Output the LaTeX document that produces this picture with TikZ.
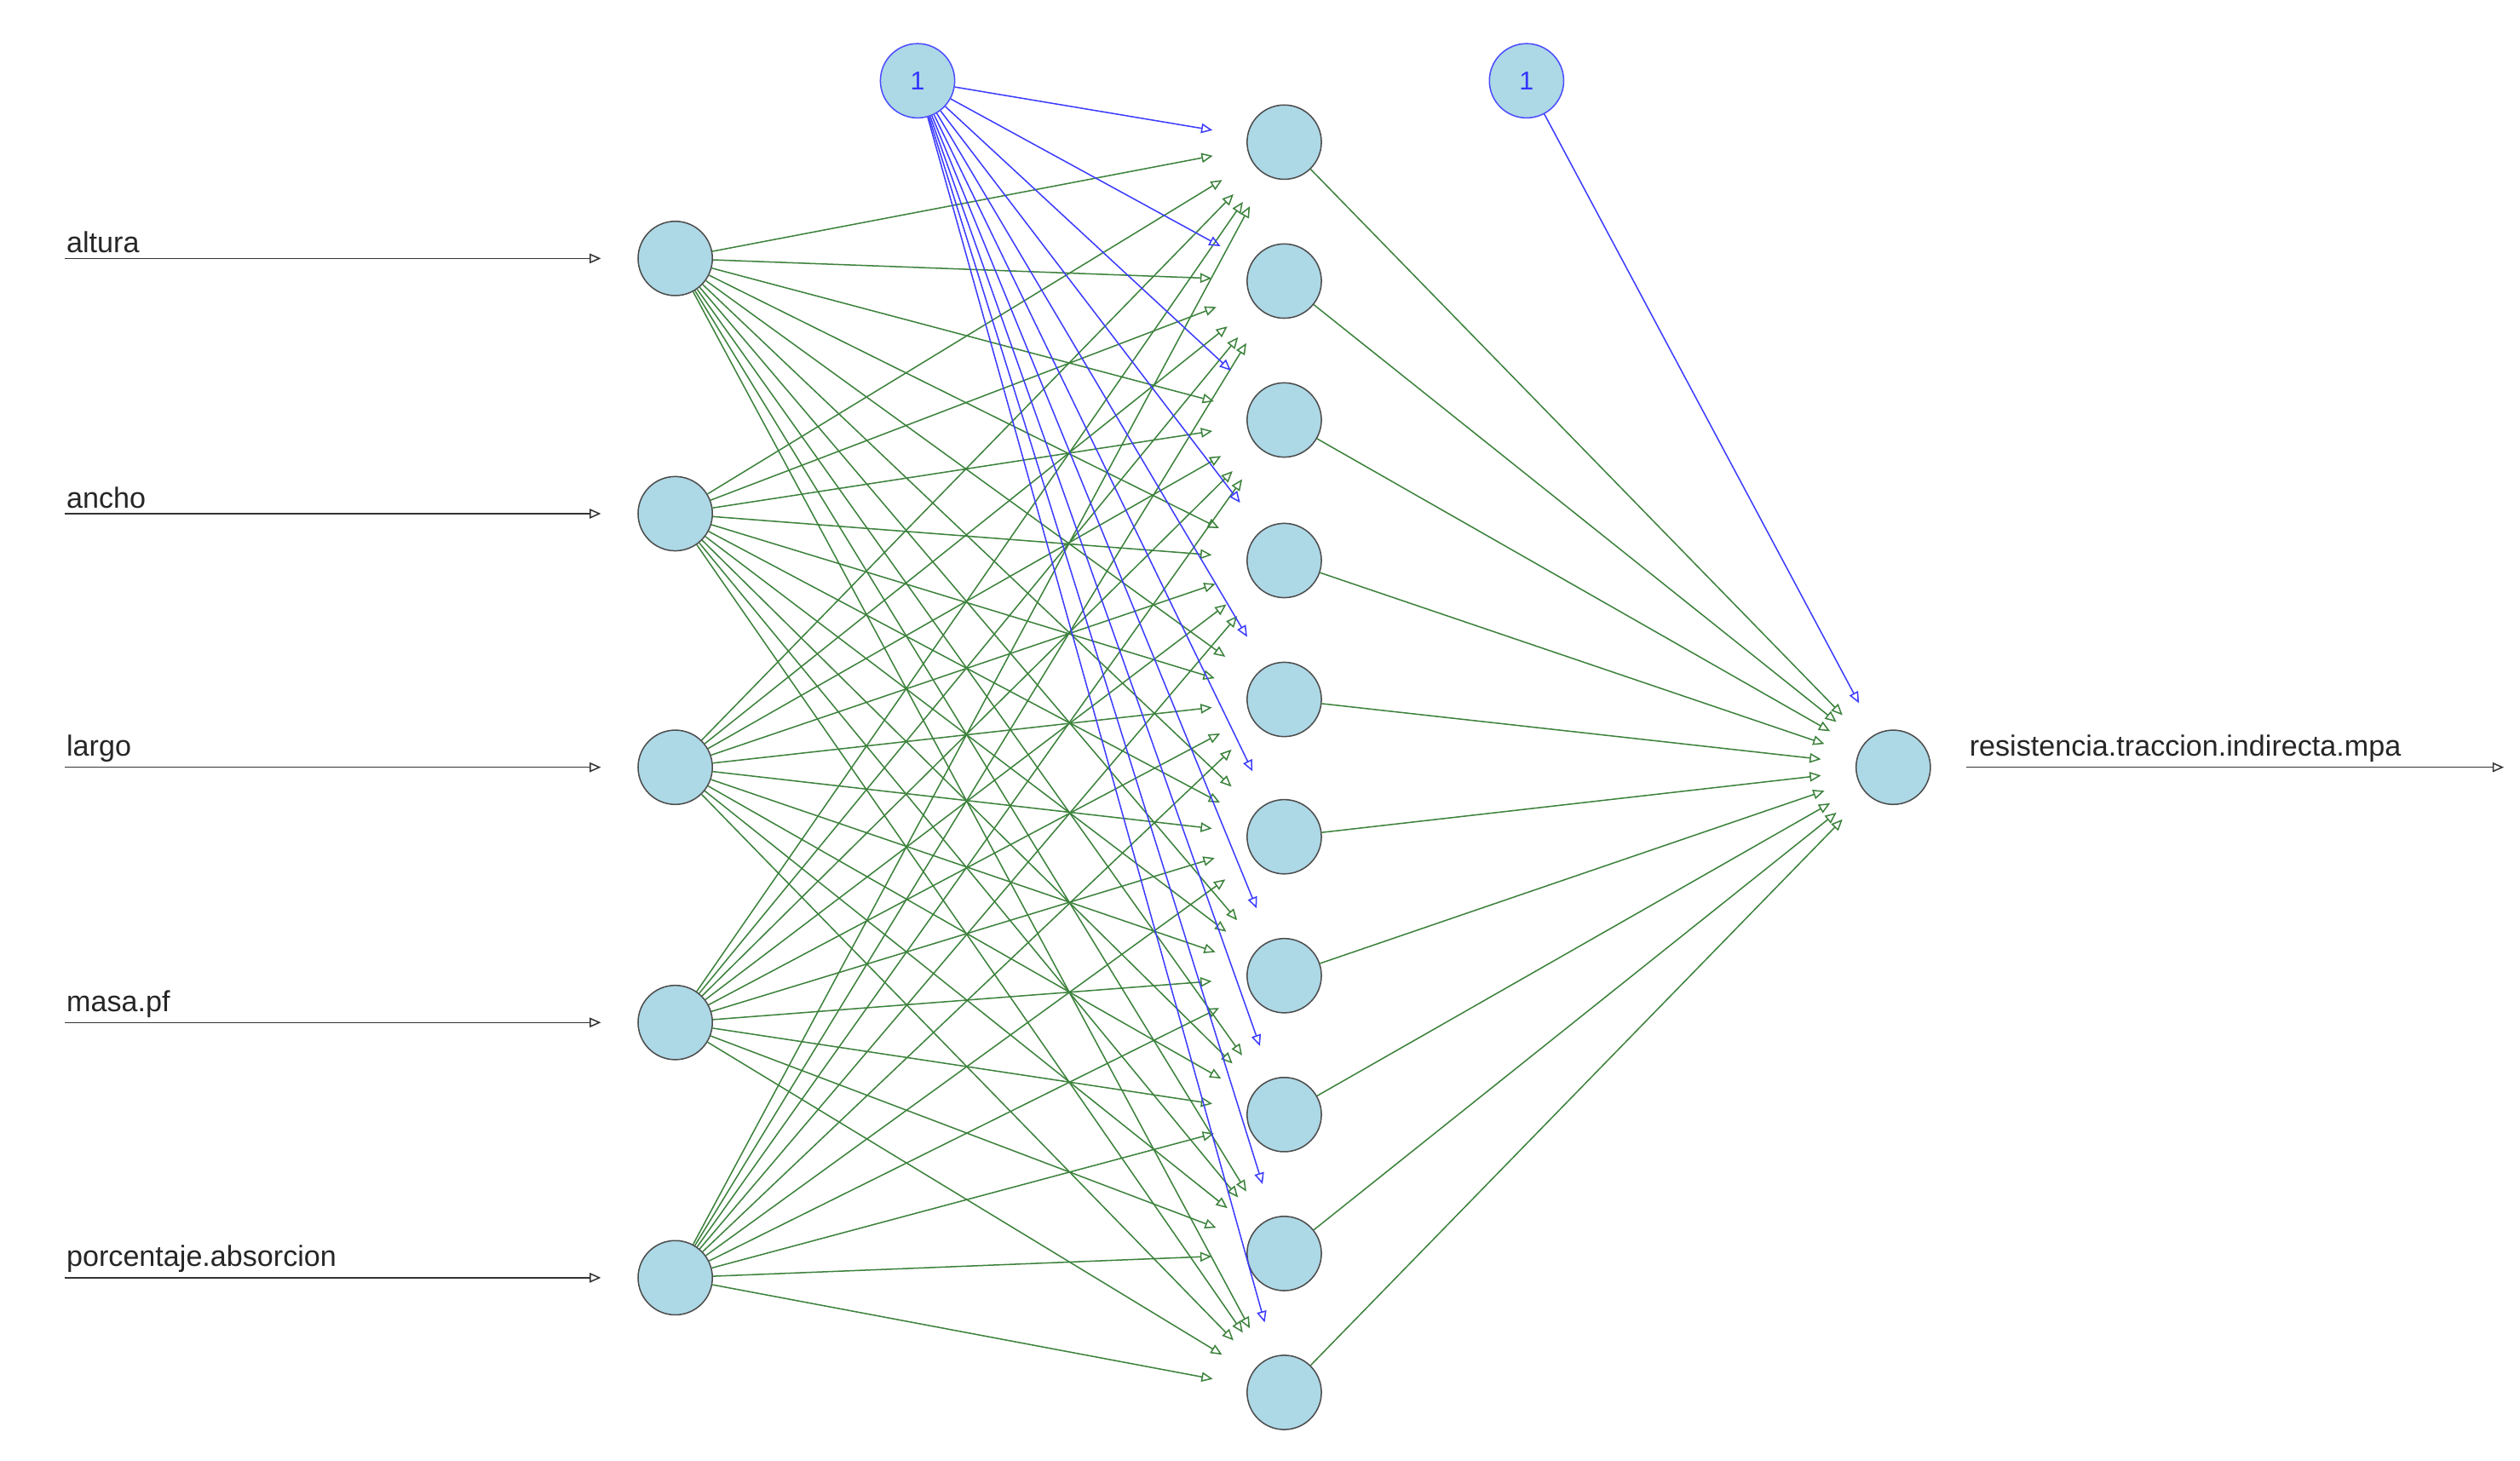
\documentclass[tikz,border=0pt]{standalone}
\usepackage{fontspec}
\setmainfont{Liberation Sans}
\usetikzlibrary{arrows.meta}
\begin{document}
\begin{tikzpicture}[x=1pt,y=-1pt,
  neuron/.style={circle,draw=black!70,fill=cyan!25!blue!10!white,minimum size=46pt,inner sep=0pt,line width=0.8pt},
  hid/.style={neuron,fill={rgb,255:red,173;green,216;blue,230}},
  bias/.style={neuron,draw=blue!70,fill={rgb,255:red,173;green,216;blue,230},font=\fontsize{16}{16}\selectfont\color{blue!80}},
  tip/.style={-{Triangle[open,length=7pt,width=6pt]}},
  gedge/.style={tip,draw={rgb,255:red,60;green,130;blue,60},line width=0.8pt,shorten >=45pt},
  bedge/.style={tip,draw={rgb,255:red,60;green,60;blue,255},line width=0.8pt,shorten >=45pt},
  lab/.style={font=\fontsize{18}{18}\selectfont,anchor=south west,inner sep=1pt,text=black!85}]
\useasboundingbox (0,0) rectangle (1560,904);
\fill[white] (0,0) rectangle (1560,904);
\foreach \i/\y/\t in {1/160/altura,2/318/ancho,3/475/largo,4/633/masa.pf,5/791/porcentaje.absorcion}{
  \node[hid] (i\i) at (418,\y) {};
  \coordinate (s\i) at (40,\y);
  \node[lab] at (40,\y-2) {\t};
  \draw[tip,black!80,line width=0.8pt] (s\i) -- (372,\y);
}
\foreach \j/\y in {1/88,2/174,3/260,4/347,5/433,6/518,7/604,8/690,9/776,10/862}{
  \node[hid] (h\j) at (795,\y) {};
}
\node[hid] (o) at (1172,475) {};
\node[bias] (b1) at (568,50) {1};
\node[bias] (b2) at (945,50) {1};
\node[lab] at (1218,473) {resistencia.traccion.indirecta.mpa};
\coordinate (oe) at (1550,475);
\draw[tip,black!80,line width=0.8pt] (o.east)++(22,0) -- (oe);
\foreach \i in {1,...,5}{\foreach \j in {1,...,10}{
  \draw[gedge] (i\i) -- (h\j.center);
}}
\foreach \j in {1,...,10}{
  \draw[bedge] (b1) -- (h\j.center);
  \draw[gedge] (h\j) -- (o.center);
}
\draw[bedge] (b2) -- (o.center);
\end{tikzpicture}
\end{document}
